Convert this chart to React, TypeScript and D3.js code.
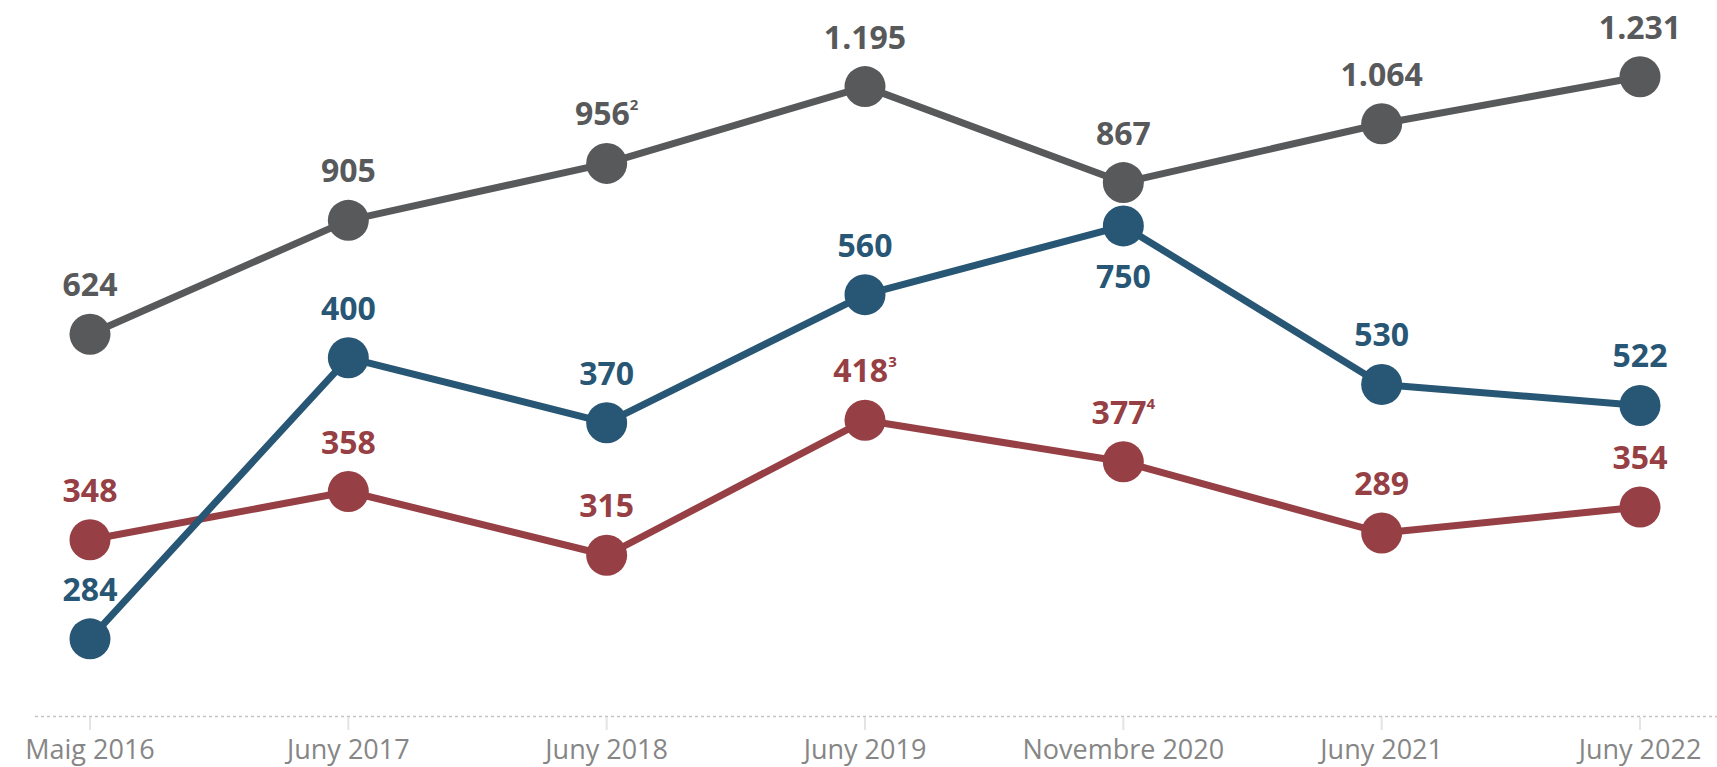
import React from "react";
import * as d3 from "d3";

// Categories (x axis)
const periods = ["Maig 2016", "Juny 2017", "Juny 2018", "Juny 2019", "Novembre 2020", "Juny 2021", "Juny 2022"];

// Labelled values for each series
const grayValues = [624, 905, 956, 1195, 867, 1064, 1231];
const blueValues = [284, 400, 370, 560, 750, 530, 522];
const redValues = [348, 358, 315, 418, 377, 289, 354];

// Footnote markers attached to some labels
const grayNotes = ["", "", "2", "", "", "", ""];
const blueNotes = ["", "", "", "", "", "", ""];
const redNotes = ["", "", "", "3", "4", "", ""];

// The reference is not drawn to scale: heights at which each point is plotted,
// read off the picture on an (unlabelled) value axis
const grayPlot = [815, 999, 1091, 1215, 1060, 1155, 1231];
const bluePlot = [323, 777, 672, 879, 990, 734, 700];
const redPlot = [483, 561, 458, 676, 609, 494, 536];

// Label below point (true) or above (false)
const blueBelow = [false, false, false, false, true, false, false];

const W = 1717;
const H = 767;

export default function App() {
  const x = d3.scalePoint<string>().domain(periods).range([90, 1640]);
  const y = d3.scaleLinear().domain([200, 1231]).range([715, 76.7]);

  const series = [
    { name: "gray", color: "#58595b", values: grayValues, plot: grayPlot, notes: grayNotes, below: periods.map(() => false) },
    { name: "red", color: "#963f44", values: redValues, plot: redPlot, notes: redNotes, below: periods.map(() => false) },
    { name: "blue", color: "#285675", values: blueValues, plot: bluePlot, notes: blueNotes, below: blueBelow },
  ];

  const fmt = (v: number) => {
    const s = String(v);
    return v >= 1000 ? s.slice(0, s.length - 3) + "." + s.slice(-3) : s;
  };

  const line = d3
    .line<number>()
    .x((_, i) => x(periods[i]) as number)
    .y((d) => y(d));

  return (
    <div style={{ position: "fixed", left: 0, top: 0 }}>
      <svg width={W} height={H} style={{ display: "block", background: "#fff" }}>
        {/* axis */}
        <line x1={35} x2={W} y1={716.5} y2={716.5} stroke="#c4c4c4" strokeWidth={1.5} strokeDasharray="3,3" />
        {periods.map((p) => (
          <g key={p}>
            <line x1={x(p)} x2={x(p)} y1={717} y2={730} stroke="#e4e4e4" strokeWidth={2} />
            <text
              x={x(p)}
              y={759}
              textAnchor="middle"
              fontFamily="'Open Sans', sans-serif"
              fontSize={27}
              fill="#868686"
            >
              {p}
            </text>
          </g>
        ))}
        {/* lines */}
        {series.map((s) => (
          <path key={s.name + "l"} d={line(s.plot) || ""} fill="none" stroke={s.color} strokeWidth={7} strokeLinejoin="round" />
        ))}
        {series.map((s) => (
          <g key={s.name + "p"}>
            {s.plot.map((v, i) => (
              <circle key={i} cx={x(periods[i])} cy={y(v)} r={20.5} fill={s.color} />
            ))}
          </g>
        ))}
        {/* labels */}
        {series.map((s) => (
          <g key={s.name + "t"}>
            {s.values.map((v, i) => {
              const cy = y(s.plot[i]);
              const ty = s.below[i] ? cy + 62 : cy - 38;
              return (
                <text
                  key={i}
                  x={x(periods[i])}
                  y={ty}
                  textAnchor="middle"
                  fontFamily="'Open Sans', sans-serif"
                  fontWeight={700}
                  fontSize={32}
                  fill={s.color}
                >
                  {fmt(v)}
                  {s.notes[i] ? (
                    <tspan fontSize={15} dy={-15}>
                      {s.notes[i]}
                    </tspan>
                  ) : null}
                </text>
              );
            })}
          </g>
        ))}
      </svg>
    </div>
  );
}
